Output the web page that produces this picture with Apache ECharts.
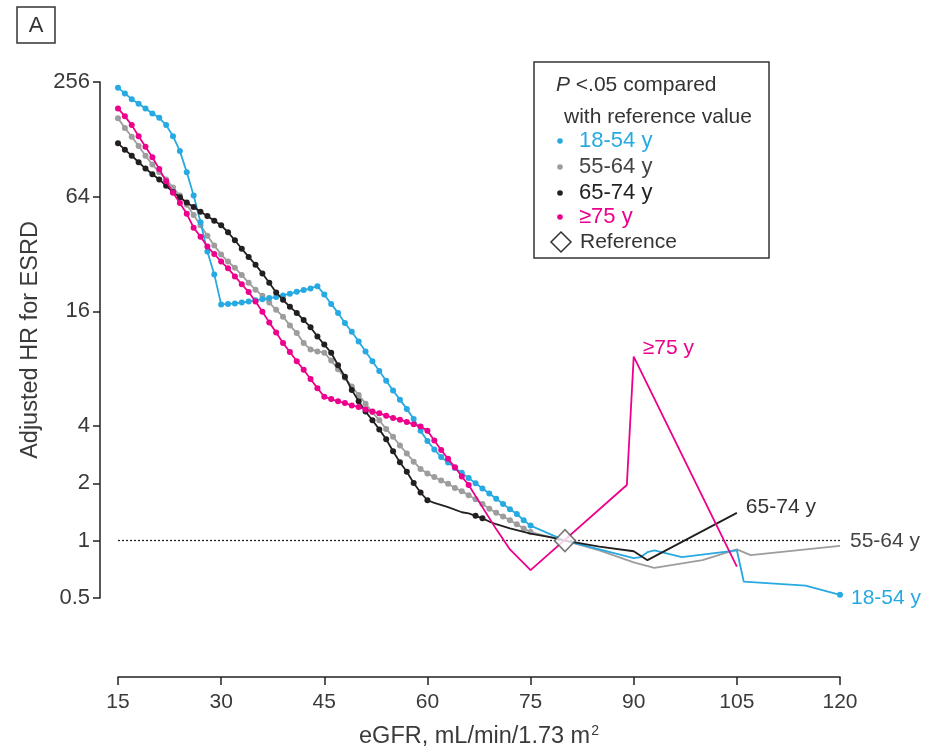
<!DOCTYPE html>
<html><head><meta charset="utf-8">
<script src="https://cdn.jsdelivr.net/npm/echarts@6/dist/echarts.min.js"></script>
<style>html,body{margin:0;padding:0;background:#fff}#c{width:942px;height:748px}</style>
</head><body><div id="c"></div>
<script>
// ---- data ----
const xTicks = [15, 30, 45, 60, 75, 90, 105, 120];
const yTickValues = [0.5, 1, 2, 4, 16, 64, 256];
const seriesNames = ['18-54 y', '55-64 y', '65-74 y', '\u226575 y'];
const referencePoint = [[80, 1]];

const age18_54 = [[15,239],[16,223],[17,208],[18,197],[19,186],[20,175],[21,166],[22,152],[23,133],[24,111],[25,86],[26,65],[27,47],[28,33],[29,25],[30,17.4],[31,17.5],[32,17.6],[33,17.8],[34,18.0],[35,18.3],[36,18.5],[37,18.8],[38,19.0],[39,19.4],[40,19.8],[41,20.3],[42,20.7],[43,21.1],[44,21.7],[45,19.6],[46,17.5],[47,15.7],[48,13.9],[49,12.5],[50,11.1],[51,9.85],[52,8.75],[53,7.78],[54,6.92],[55,6.15],[56,5.5],[57,4.92],[58,4.35],[59,3.78],[60,3.34],[61,3.01],[62,2.75],[63,2.57],[64,2.41],[65,2.27],[66,2.13],[67,2.0],[68,1.88],[69,1.77],[70,1.66],[71,1.56],[72,1.46],[73,1.38],[74,1.28],[75,1.2],[80,1],[85,0.9],[90,0.81],[91,0.82],[92,0.87],[93,0.89],[97,0.82],[105,0.89],[106,0.61],[115,0.58],[120,0.52]];
const age55_64 = [[15,165],[16,147],[17,132],[18,118],[19,105],[20,94.3],[21,86.2],[22,78.8],[23,71.5],[24,64.9],[25,58.1],[26,51.3],[27,45.3],[28,39.9],[29,35.5],[30,31.8],[31,29.2],[32,27.1],[33,24.8],[34,22.6],[35,20.8],[36,19.3],[37,17.8],[38,16.3],[39,15.0],[40,13.5],[41,12.3],[42,10.9],[43,10.1],[44,9.85],[45,9.71],[46,8.82],[47,7.94],[48,7.16],[49,6.45],[50,5.82],[51,5.24],[52,4.72],[53,4.29],[54,3.86],[55,3.51],[56,3.16],[57,2.87],[58,2.6],[59,2.38],[60,2.25],[61,2.16],[62,2.07],[63,1.99],[64,1.89],[65,1.82],[66,1.73],[67,1.65],[68,1.56],[69,1.47],[70,1.4],[71,1.34],[72,1.28],[73,1.22],[74,1.16],[75,1.11],[80,1],[85,0.89],[90,0.77],[93,0.72],[100,0.79],[105,0.9],[107,0.84],[120,0.94]];
const age65_74 = [[15,122],[16,113],[17,105],[18,97],[19,89.9],[20,83.9],[21,78.8],[22,73],[23,67.7],[24,63.6],[25,59.7],[26,56.5],[27,53.4],[28,50.6],[29,47.8],[30,45.3],[31,41.6],[32,37.8],[33,34.1],[34,30.9],[35,28.1],[36,25.3],[37,22.6],[38,20.1],[39,18.4],[40,16.9],[41,15.7],[42,14.4],[43,13.2],[44,11.8],[45,10.7],[46,9.7],[47,8.34],[48,7.26],[49,6.19],[50,5.39],[51,4.76],[52,4.29],[53,3.84],[54,3.41],[55,2.95],[56,2.58],[57,2.3],[58,2.01],[59,1.79],[60,1.63],[61,1.58],[63,1.5],[65,1.41],[66,1.39],[67,1.35],[68,1.31],[69,1.26],[70,1.22],[72,1.16],[75,1.09],[78,1.04],[80,1],[85,0.93],[90,0.88],[92,0.79],[105,1.4]];
const age75plus = [[15,186],[16,169],[17,152],[18,133],[19,117],[20,103],[21,89.3],[22,77.2],[23,67.2],[24,59.3],[25,52],[26,44],[27,39.4],[28,35],[29,32],[30,29.2],[31,26.9],[32,24.4],[33,22.2],[34,20.2],[35,18],[36,15.9],[37,14],[38,12.4],[39,10.9],[40,9.78],[41,8.75],[42,7.89],[43,7.06],[44,6.32],[45,5.7],[46,5.54],[47,5.39],[48,5.28],[49,5.13],[50,5.03],[51,4.89],[52,4.76],[53,4.66],[54,4.53],[55,4.41],[56,4.32],[57,4.2],[58,4.08],[59,3.97],[60,3.78],[61,3.36],[62,2.99],[63,2.69],[64,2.43],[65,2.17],[66,1.96],[68,1.5],[70,1.15],[72,0.9],[75,0.7],[89,1.96],[90,9.25],[105,0.73]];

// eGFR ranges where P < .05 (drawn with dots)
const sig18_54 = [[15,75],[120,120]];
const sig55_64 = [[15,75]];
const sig65_74 = [[15,60],[67,68]];
const sig75plus = [[15,66]];

// ---- styles ----
const BLUE = '#27aae1', GRAY = '#9d9d9d', BLACK = '#231f20', PINK = '#ec008c';
const FONT = 'Liberation Sans, Arial, sans-serif';
const TXT = '#3a3a3a';

function build(points, sig) {
  return points.map(p => {
    const on = sig.some(r => p[0] >= r[0] && p[0] <= r[1]);
    return on ? { value: p } : { value: p, symbol: 'none' };
  });
}
function lineSeries(name, pts, sig, color, z, extra) {
  return Object.assign({
    type: 'line', name: name, data: build(pts, sig), z: z,
    symbol: 'circle', symbolSize: 6, showAllSymbol: true, smooth: false,
    lineStyle: { color: color, width: 1.8 }, itemStyle: { color: color },
    emphasis: { disabled: true }, animation: false
  }, extra || {});
}

// the >=75 y curve is labelled at its late peak
let peakIdx = -1;
age75plus.forEach((p, i) => {
  if (p[0] > 80 && (peakIdx < 0 || p[1] > age75plus[peakIdx][1])) peakIdx = i;
});

const chart = echarts.init(document.getElementById('c'), null, { renderer: 'canvas' });
chart.setOption({
  animation: false,
  textStyle: { fontFamily: FONT },
  grid: { left: 118, right: 102, top: 82, bottom: 150, containLabel: false, outerBoundsMode: 'none' },
  xAxis: {
    type: 'value', min: 15, max: 120, interval: 15, offset: 79,
    axisLine: { show: true, lineStyle: { color: '#222', width: 1.5 } },
    axisTick: { show: true, length: 8, lineStyle: { color: '#222', width: 1.5 } },
    axisLabel: { fontSize: 21, color: TXT, margin: 15, fontFamily: FONT },
    splitLine: { show: false },
    name: 'eGFR, mL/min/1.73 m{sup|2}', nameLocation: 'middle', nameGap: 47,
    nameTextStyle: { fontSize: 23.5, color: TXT, fontFamily: FONT,
      rich: { sup: { fontSize: 14, color: TXT, fontFamily: FONT, padding: [0, 0, 11, 1] } } }
  },
  yAxis: {
    type: 'log', logBase: 2, min: 0.5, max: 256, offset: 18,
    axisLine: { show: true, lineStyle: { color: '#222', width: 1.5 } },
    axisTick: { show: true, length: 7, lineStyle: { color: '#222', width: 1.5 }, customValues: yTickValues },
    axisLabel: { customValues: yTickValues, fontSize: 22, color: TXT, margin: 10, fontFamily: FONT,
      formatter: v => String(v) },
    splitLine: { show: false },
    name: 'Adjusted HR for ESRD', nameLocation: 'middle', nameGap: 57,
    nameTextStyle: { fontSize: 23.5, color: TXT, fontFamily: FONT }
  },
  series: [
    lineSeries(seriesNames[1], age55_64, sig55_64, GRAY, 2, {
      endLabel: { show: true, formatter: seriesNames[1], color: '#444', fontSize: 21, fontFamily: FONT, offset: [2, -5] } }),
    lineSeries(seriesNames[0], age18_54, sig18_54, BLUE, 3, {
      endLabel: { show: true, formatter: seriesNames[0], color: BLUE, fontSize: 21, fontFamily: FONT, offset: [3, 3] } }),
    lineSeries(seriesNames[2], age65_74, sig65_74, BLACK, 4, {
      endLabel: { show: true, formatter: seriesNames[2], color: '#333', fontSize: 21, fontFamily: FONT, offset: [1, -6] } }),
    lineSeries(seriesNames[3], age75plus, sig75plus, PINK, 5, {
      markPoint: {
        silent: true, animation: false, symbol: 'circle', symbolSize: 0,
        data: [{ coord: age75plus[peakIdx] }],
        label: { show: true, position: 'right', formatter: seriesNames[3], color: PINK, fontSize: 21, fontFamily: FONT, offset: [4, -8] }
      } }),
    {
      type: 'scatter', name: 'Reference', data: referencePoint, z: 10,
      symbol: 'diamond', symbolSize: [21, 22],
      itemStyle: { color: '#fff', borderColor: '#555', borderWidth: 1.6 },
      emphasis: { disabled: true },
      markLine: {
        silent: true, symbol: 'none', animation: false, z: 1,
        label: { show: false },
        lineStyle: { type: [2, 2], color: '#222', width: 1.3 },
        data: [{ yAxis: 1 }]
      }
    }
  ],
  graphic: [
    { type: 'rect', shape: { x: 17, y: 7, width: 38, height: 36 }, style: { fill: 'none', stroke: '#333', lineWidth: 1.5 } },
    { type: 'text', x: 36, y: 26, style: { text: 'A', font: '22px ' + FONT, fill: '#333', align: 'center', verticalAlign: 'middle' } },
    { type: 'rect', shape: { x: 534, y: 62, width: 235, height: 196 }, style: { fill: '#fff', stroke: '#333', lineWidth: 1.5 }, z: 20 },
    { type: 'text', x: 556, y: 85, z: 21, style: { text: '{i|P} <.05 compared', font: '21px ' + FONT, fill: '#333', verticalAlign: 'middle',
        rich: { i: { fontStyle: 'italic', fontSize: 21, fontFamily: FONT, fill: '#333' } } } },
    { type: 'text', x: 564, y: 117, z: 21, style: { text: 'with reference value', font: '21px ' + FONT, fill: '#333', verticalAlign: 'middle' } },
    { type: 'circle', shape: { cx: 560, cy: 141, r: 2.8 }, style: { fill: BLUE }, z: 21 },
    { type: 'text', x: 579, y: 141, z: 21, style: { text: seriesNames[0], font: '22px ' + FONT, fill: BLUE, verticalAlign: 'middle' } },
    { type: 'circle', shape: { cx: 560, cy: 167, r: 2.8 }, style: { fill: GRAY }, z: 21 },
    { type: 'text', x: 579, y: 167, z: 21, style: { text: seriesNames[1], font: '22px ' + FONT, fill: '#444', verticalAlign: 'middle' } },
    { type: 'circle', shape: { cx: 560, cy: 193, r: 2.8 }, style: { fill: BLACK }, z: 21 },
    { type: 'text', x: 579, y: 193, z: 21, style: { text: seriesNames[2], font: '22px ' + FONT, fill: '#222', verticalAlign: 'middle' } },
    { type: 'circle', shape: { cx: 560, cy: 217, r: 2.8 }, style: { fill: PINK }, z: 21 },
    { type: 'text', x: 579, y: 217, z: 21, style: { text: seriesNames[3], font: '22px ' + FONT, fill: PINK, verticalAlign: 'middle' } },
    { type: 'polygon', z: 21, shape: { points: [[561, 232], [571, 242], [561, 252], [551, 242]] }, style: { fill: '#fff', stroke: '#333', lineWidth: 1.5 } },
    { type: 'text', x: 580, y: 242, z: 21, style: { text: 'Reference', font: '21px ' + FONT, fill: '#333', verticalAlign: 'middle' } }
  ]
});
</script>
</body></html>
